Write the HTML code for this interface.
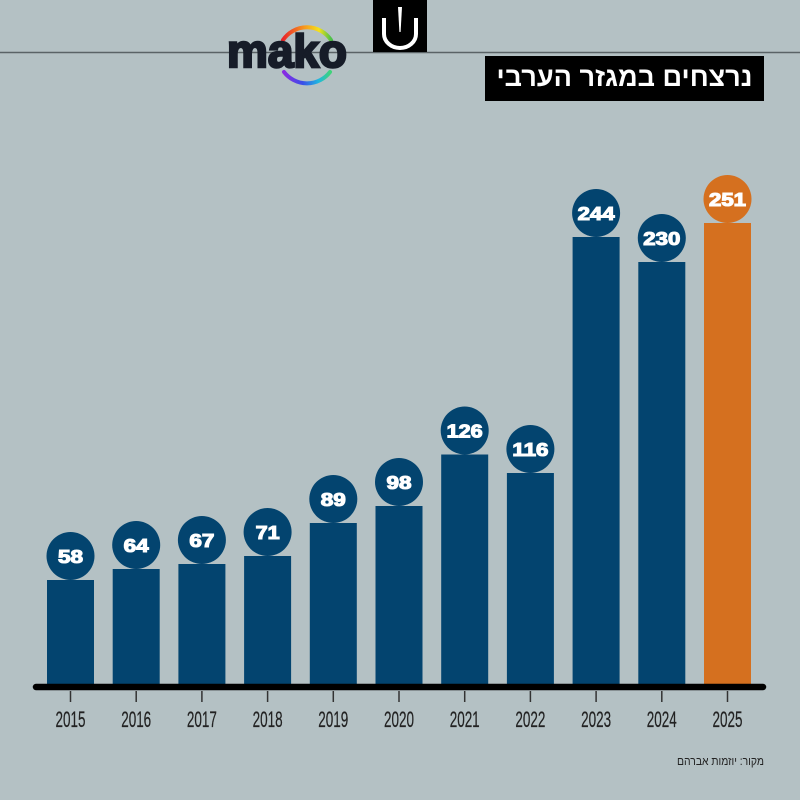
<!DOCTYPE html>
<html><head><meta charset="utf-8"><style>
html,body{margin:0;padding:0;background:#b4c1c4;}
svg{display:block;}
</style></head><body>
<svg width="800" height="800" viewBox="0 0 800 800" xmlns="http://www.w3.org/2000/svg">
<defs>
<linearGradient id="gTop" x1="0" y1="0" x2="1" y2="0">
<stop offset="0" stop-color="#e8252a"/><stop offset="0.45" stop-color="#f79a1e"/><stop offset="0.75" stop-color="#f4e21c"/><stop offset="1" stop-color="#4cc04a"/>
</linearGradient>
<linearGradient id="gBot" x1="0" y1="0" x2="1" y2="0">
<stop offset="0" stop-color="#8a2be2"/><stop offset="0.4" stop-color="#3b4ee8"/><stop offset="0.75" stop-color="#1fb7e0"/><stop offset="1" stop-color="#3fd37a"/>
</linearGradient>
</defs>
<rect width="800" height="800" fill="#b4c1c4"/>
<line x1="0" y1="52.5" x2="800" y2="52.5" stroke="#5a6366" stroke-width="1.5"/>
<!-- icon box -->
<rect x="373" y="0" width="54" height="52" fill="#000"/>
<path d="M384 18 V34 A16 14 0 0 0 416 34 V18" fill="none" stroke="#fff" stroke-width="4"/>
<path d="M398 7 L402 7 L400.6 32 L399.4 32 Z" fill="#fff"/>
<!-- mako logo -->
<path d="M283 40 A29 29 0 0 1 331 40" fill="none" stroke="url(#gTop)" stroke-width="4" stroke-linecap="round"/>
<path d="M284 72 A29 29 0 0 0 330 72" fill="none" stroke="url(#gBot)" stroke-width="4" stroke-linecap="round"/>
<text x="227" y="67" font-family="Liberation Sans, sans-serif" font-weight="bold" font-size="46" fill="#161c28" stroke="#161c28" stroke-width="2.5" textLength="120" lengthAdjust="spacingAndGlyphs">mako</text>
<!-- title -->
<rect x="485" y="56" width="279" height="45" fill="#000"/>
<text x="624.5" y="86" text-anchor="middle" font-family="Liberation Sans, DejaVu Sans, sans-serif" font-weight="bold" font-size="27" fill="#fff" textLength="256" lengthAdjust="spacingAndGlyphs" direction="rtl">נרצחים במגזר הערבי</text>
<!-- bars -->
<g fill="#03446f">
<rect x="47" y="580" width="47" height="108"/>
<rect x="112.7" y="569" width="47" height="119"/>
<rect x="178.4" y="564" width="47" height="124"/>
<rect x="244.1" y="556" width="47" height="132"/>
<rect x="309.8" y="523" width="47" height="165"/>
<rect x="375.5" y="506" width="47" height="182"/>
<rect x="441.2" y="454.5" width="47" height="233.5"/>
<rect x="506.9" y="473" width="47" height="215"/>
<rect x="572.6" y="237" width="47" height="451"/>
<rect x="638.3" y="262" width="47" height="426"/>
</g>
<rect x="704" y="223" width="47" height="465" fill="#d5701f"/>
<g fill="#03446f">
<circle cx="70.5" cy="556" r="24"/>
<circle cx="136.2" cy="545" r="24"/>
<circle cx="201.9" cy="540" r="24"/>
<circle cx="267.6" cy="532" r="24"/>
<circle cx="333.3" cy="499" r="24"/>
<circle cx="399" cy="482" r="24"/>
<circle cx="464.7" cy="430.5" r="24"/>
<circle cx="530.4" cy="449" r="24"/>
<circle cx="596.1" cy="213" r="24"/>
<circle cx="661.8" cy="238" r="24"/>
</g>
<circle cx="727.5" cy="199" r="24" fill="#d5701f"/>
<g font-family="Liberation Sans, sans-serif" font-weight="bold" font-size="18" fill="#fff" stroke="#fff" stroke-width="1.1" text-anchor="middle" lengthAdjust="spacingAndGlyphs">
<text x="70.5" y="563" textLength="25" lengthAdjust="spacingAndGlyphs">58</text>
<text x="136.2" y="552" textLength="25" lengthAdjust="spacingAndGlyphs">64</text>
<text x="201.9" y="547" textLength="25" lengthAdjust="spacingAndGlyphs">67</text>
<text x="267.6" y="539" textLength="24" lengthAdjust="spacingAndGlyphs">71</text>
<text x="333.3" y="506" textLength="25" lengthAdjust="spacingAndGlyphs">89</text>
<text x="399" y="489" textLength="25" lengthAdjust="spacingAndGlyphs">98</text>
<text x="464.7" y="437.5" textLength="36" lengthAdjust="spacingAndGlyphs">126</text>
<text x="530.4" y="456" textLength="36" lengthAdjust="spacingAndGlyphs">116</text>
<text x="596.1" y="220" textLength="37" lengthAdjust="spacingAndGlyphs">244</text>
<text x="661.8" y="245" textLength="37" lengthAdjust="spacingAndGlyphs">230</text>
<text x="727.5" y="206" textLength="37" lengthAdjust="spacingAndGlyphs">251</text>
</g>
<!-- axis -->
<line x1="36" y1="687" x2="763" y2="687" stroke="#000" stroke-width="6.5" stroke-linecap="round"/>
<g stroke="#333" stroke-width="1.5">
<line x1="70.5" y1="691" x2="70.5" y2="702"/>
<line x1="136.2" y1="691" x2="136.2" y2="702"/>
<line x1="201.9" y1="691" x2="201.9" y2="702"/>
<line x1="267.6" y1="691" x2="267.6" y2="702"/>
<line x1="333.3" y1="691" x2="333.3" y2="702"/>
<line x1="399" y1="691" x2="399" y2="702"/>
<line x1="464.7" y1="691" x2="464.7" y2="702"/>
<line x1="530.4" y1="691" x2="530.4" y2="702"/>
<line x1="596.1" y1="691" x2="596.1" y2="702"/>
<line x1="661.8" y1="691" x2="661.8" y2="702"/>
<line x1="727.5" y1="691" x2="727.5" y2="702"/>
</g>
<g font-family="Liberation Sans, sans-serif" font-size="22" fill="#222" stroke="#222" stroke-width="0.2" text-anchor="middle">
<text x="70.5" y="727" textLength="30" lengthAdjust="spacingAndGlyphs">2015</text>
<text x="136.2" y="727" textLength="30" lengthAdjust="spacingAndGlyphs">2016</text>
<text x="201.9" y="727" textLength="30" lengthAdjust="spacingAndGlyphs">2017</text>
<text x="267.6" y="727" textLength="30" lengthAdjust="spacingAndGlyphs">2018</text>
<text x="333.3" y="727" textLength="30" lengthAdjust="spacingAndGlyphs">2019</text>
<text x="399" y="727" textLength="30" lengthAdjust="spacingAndGlyphs">2020</text>
<text x="464.7" y="727" textLength="30" lengthAdjust="spacingAndGlyphs">2021</text>
<text x="530.4" y="727" textLength="30" lengthAdjust="spacingAndGlyphs">2022</text>
<text x="596.1" y="727" textLength="30" lengthAdjust="spacingAndGlyphs">2023</text>
<text x="661.8" y="727" textLength="30" lengthAdjust="spacingAndGlyphs">2024</text>
<text x="727.5" y="727" textLength="30" lengthAdjust="spacingAndGlyphs">2025</text>
</g>
<text x="720.5" y="765" text-anchor="middle" font-family="Liberation Sans, DejaVu Sans, sans-serif" font-size="12" fill="#222" textLength="87" lengthAdjust="spacingAndGlyphs" direction="rtl">מקור: יוזמות אברהם</text>
</svg>
</body></html>
